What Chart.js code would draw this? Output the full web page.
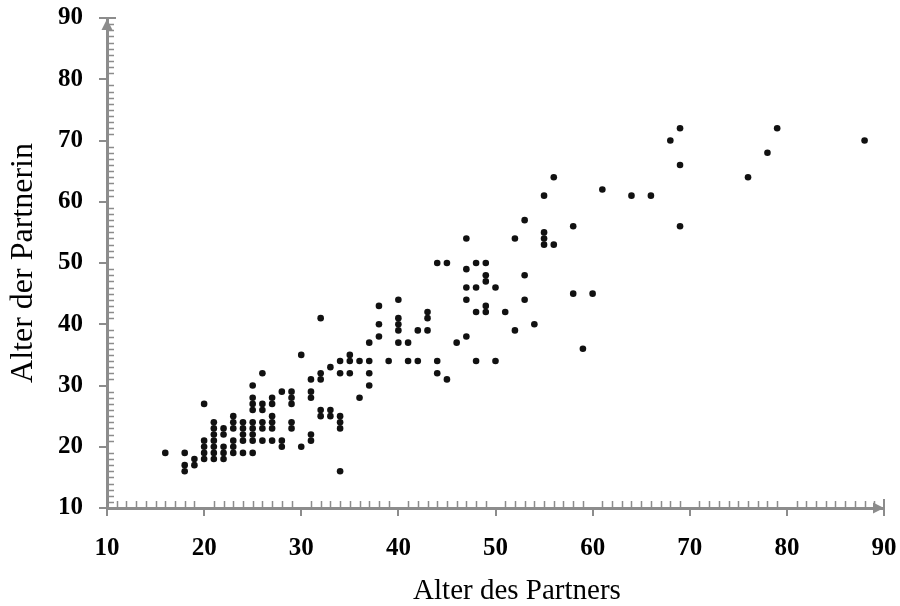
<!DOCTYPE html>
<html>
<head>
<meta charset="utf-8">
<script src="https://cdn.jsdelivr.net/npm/chart.js@4.4.1/dist/chart.umd.min.js"></script>
<style>
    html, body { margin: 0; padding: 0; background: #fff; }
    #wrap { width: 900px; height: 606px; }
</style>
</head>
<body>
<div id="wrap"><canvas id="chart" width="900" height="606"></canvas></div>
<script>
// --- Data (one line per age of the man) ---
const ageOfPartner = [
    16,
    18, 18, 18,
    19, 19,
    20, 20, 20, 20, 20,
    21, 21, 21, 21, 21, 21, 21,
    22, 22, 22, 22, 22,
    23, 23, 23, 23, 23, 23,
    24, 24, 24, 24, 24,
    25, 25, 25, 25, 25, 25, 25, 25, 25,
    26, 26, 26, 26, 26, 26,
    27, 27, 27, 27, 27, 27,
    28, 28, 28,
    29, 29, 29, 29, 29,
    30, 30,
    31, 31, 31, 31, 31,
    32, 32, 32, 32, 32,
    33, 33, 33,
    34, 34, 34, 34, 34, 34,
    35, 35, 35,
    36, 36,
    37, 37, 37, 37,
    38, 38, 38,
    39,
    40, 40, 40, 40, 40,
    41, 41,
    42, 42,
    43, 43, 43,
    44, 44, 44,
    45, 45,
    46,
    47, 47, 47, 47, 47,
    48, 48, 48, 48,
    49, 49, 49, 49, 49,
    50, 50,
    51,
    52, 52,
    53, 53, 53,
    54,
    55, 55, 55, 55,
    56, 56,
    58, 58,
    59,
    60,
    61,
    64,
    66,
    68,
    69, 69, 69,
    76,
    78,
    79,
    88
];
const ageOfPartnerin = [
    19,
    19, 17, 16,
    18, 17,
    27, 21, 20, 19, 18,
    24, 23, 22, 21, 20, 19, 18,
    23, 22, 20, 19, 18,
    25, 24, 23, 21, 20, 19,
    24, 23, 22, 21, 19,
    30, 28, 27, 26, 24, 23, 22, 21, 19,
    32, 27, 26, 24, 23, 21,
    28, 27, 25, 24, 23, 21,
    29, 21, 20,
    29, 28, 27, 24, 23,
    35, 20,
    31, 29, 28, 22, 21,
    41, 32, 31, 26, 25,
    33, 26, 25,
    34, 32, 25, 24, 23, 16,
    35, 34, 32,
    34, 28,
    37, 34, 32, 30,
    43, 40, 38,
    34,
    44, 41, 40, 39, 37,
    37, 34,
    39, 34,
    42, 41, 39,
    50, 34, 32,
    50, 31,
    37,
    54, 49, 46, 44, 38,
    50, 46, 42, 34,
    50, 48, 47, 43, 42,
    46, 34,
    42,
    54, 39,
    57, 48, 44,
    40,
    61, 55, 54, 53,
    64, 53,
    56, 45,
    36,
    45,
    62,
    61,
    61,
    70,
    72, 66, 56,
    64,
    68,
    72,
    70
];
const axisMin = 10;
const axisMax = 90;
const axisStep = 10;
const xTitle = 'Alter des Partners';
const yTitle = 'Alter der Partnerin';

const AXIS_GREY = '#8c8c8c';
const SERIF = '"Liberation Serif", "Times New Roman", serif';

// minor ticks, the end caps and the arrow heads of both axes
const axisDecor = {
    id: 'axisDecor',
    afterDraw(chart) {
        const { ctx, scales: { x, y } } = chart;
        const x0 = x.getPixelForValue(axisMin), xEnd = x.getPixelForValue(axisMax);
        const y0 = y.getPixelForValue(axisMin), yEnd = y.getPixelForValue(axisMax);
        ctx.save();
        ctx.strokeStyle = AXIS_GREY;
        ctx.fillStyle = AXIS_GREY;
        ctx.lineWidth = 1.5;
        ctx.beginPath();
        for (let v = axisMin + 1; v < axisMax; v++) {
            if (v % axisStep === 0) continue;
            const px = Math.round(x.getPixelForValue(v)) + 0.5;
            ctx.moveTo(px, y0);
            ctx.lineTo(px, y0 - 7);
            const py = Math.round(y.getPixelForValue(v)) + 0.5;
            ctx.moveTo(x0, py);
            ctx.lineTo(x0 + 7, py);
        }
        ctx.stroke();

        // caps at 90
        ctx.lineWidth = 2;
        ctx.beginPath();
        ctx.moveTo(xEnd, y0 - 9);
        ctx.lineTo(xEnd, y0 + 8);
        ctx.moveTo(x0 - 8, yEnd);
        ctx.lineTo(x0 + 9, yEnd);
        ctx.stroke();

        // arrow heads
        ctx.beginPath();
        ctx.moveTo(xEnd, y0);
        ctx.lineTo(xEnd - 11, y0 - 5.5);
        ctx.lineTo(xEnd - 11, y0 + 5.5);
        ctx.closePath();
        ctx.fill();
        ctx.beginPath();
        ctx.moveTo(x0, yEnd + 1);
        ctx.lineTo(x0 - 5.5, yEnd + 12);
        ctx.lineTo(x0 + 5.5, yEnd + 12);
        ctx.closePath();
        ctx.fill();

        // x title sits a little right of centre in the original
        ctx.fillStyle = '#000';
        ctx.font = '29px ' + SERIF;
        ctx.textAlign = 'center';
        ctx.textBaseline = 'middle';
        ctx.fillText(xTitle, 517, 591);
        ctx.restore();
    }
};

const tickFont = { family: SERIF, size: 25, weight: 'bold' };

function axisOptions(isY) {
    return {
        type: 'linear',
        min: axisMin,
        max: axisMax,
        border: { display: true, color: AXIS_GREY, width: 3 },
        grid: { drawOnChartArea: false, drawTicks: true, tickLength: 8, color: AXIS_GREY, lineWidth: 2 },
        ticks: { stepSize: axisStep, color: '#000', font: tickFont, padding: isY ? 16 : 18 },
        title: isY ? {
            display: true,
            text: yTitle,
            color: '#000',
            font: { family: SERIF, size: 32 },
            padding: { top: 4, bottom: 0 }
        } : { display: false },
        afterFit(scale) {
            if (isY) scale.width = 107;
            else scale.height = 98;
            // the plot box is fixed by layout.padding alone
            scale.paddingTop = scale.paddingBottom = 0;
            scale.paddingLeft = scale.paddingRight = 0;
        }
    };
}

const points = ageOfPartner.map((a, i) => ({ x: a, y: ageOfPartnerin[i] }));

new Chart(document.getElementById('chart'), {
    type: 'scatter',
    data: {
        datasets: [{
            data: points,
            backgroundColor: '#111',
            borderColor: '#111',
            borderWidth: 0,
            pointRadius: 3.3
        }]
    },
    options: {
        responsive: false,
        animation: false,
        devicePixelRatio: 1,
        layout: { autoPadding: false, padding: { top: 18, right: 16, bottom: 0, left: 0 } },
        plugins: { legend: { display: false }, tooltip: { enabled: false } },
        scales: { x: axisOptions(false), y: axisOptions(true) }
    },
    plugins: [axisDecor]
});
</script>
</body>
</html>
